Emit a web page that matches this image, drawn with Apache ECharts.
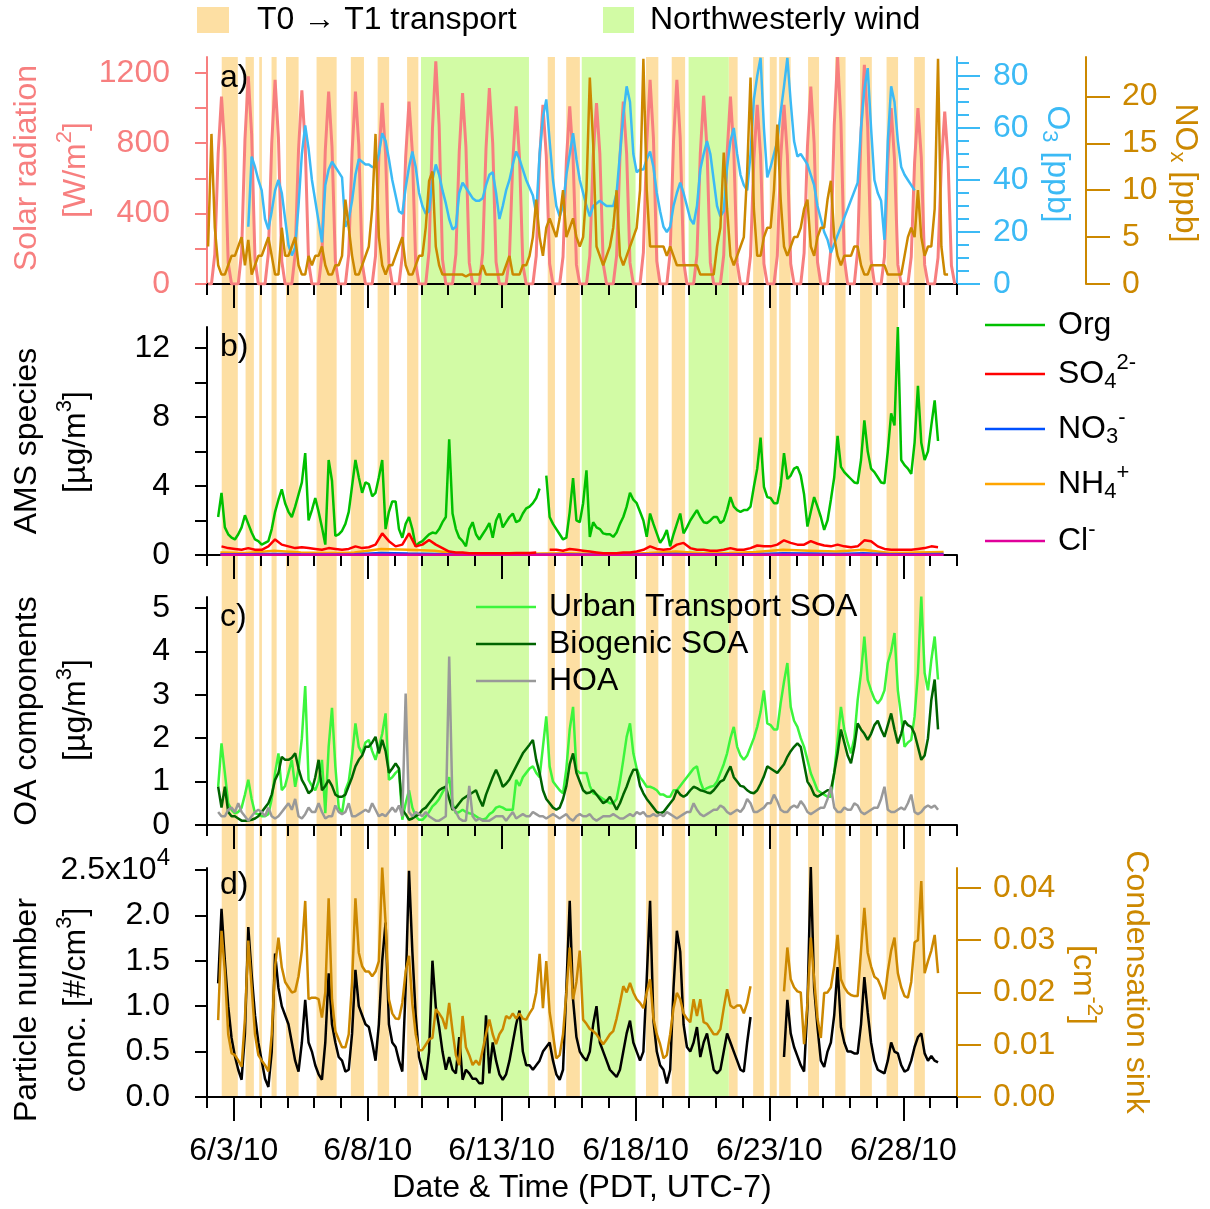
<!DOCTYPE html>
<html>
<head>
<meta charset="utf-8">
<script src="https://cdn.jsdelivr.net/npm/echarts@6/dist/echarts.min.js"></script>
<style>
html, body { margin: 0; padding: 0; background: #fff; }
#main { width: 1210px; height: 1209px; }
</style>
</head>
<body>
<div id="main"></div>
<script>
// x axis is in days since 6/2/10 00:00 PDT
var dateLabels = ['6/3/10', '6/8/10', '6/13/10', '6/18/10', '6/23/10', '6/28/10'];
var labelDays = [1, 6, 11, 16, 21, 26];
var dayTicks = [];
for (var d = 0; d <= 28; d++) dayTicks.push(d);

// shaded periods [start day, end day]
var transportBands = [[0.55, 1.15], [1.44, 1.75], [1.95, 2.05], [2.41, 2.60], [2.95, 3.42], [4.09, 4.84],
  [5.37, 5.86], [6.37, 6.80], [7.47, 7.89], [12.72, 12.99], [13.41, 13.92], [16.39, 16.85], [17.35, 17.85],
  [19.48, 19.81], [20.39, 20.79], [21.01, 21.27], [21.36, 21.79], [22.44, 22.85], [23.45, 23.84],
  [24.38, 24.82], [25.37, 25.80], [26.40, 26.80]];
var nwBands = [[7.99, 12.02], [13.99, 16.00], [17.98, 19.48]];

// 3-hourly values, hours 1,4,7,10,13,16,19,22 of each day (one row per day from 6/2)
var solar = [
  0,0,170,740,1065,770,120,0,
  0,0,180,820,1180,850,140,0,
  0,0,175,800,1160,830,130,0,
  0,0,170,760,1100,790,125,0,
  0,0,165,760,1094,780,130,0,
  0,0,170,750,1094,790,120,0,
  0,0,160,720,1030,740,120,0,
  0,0,160,720,1037,750,115,0,
  0,0,190,880,1265,900,140,0,
  0,0,170,750,1085,780,120,0,
  0,0,175,770,1113,800,125,0,
  0,0,155,700,1009,720,110,0,
  0,0,160,710,1018,730,115,0,
  0,0,155,700,1009,720,110,0,
  0,0,160,720,1028,740,115,0,
  0,0,160,720,1037,740,120,0,
  0,0,180,800,1160,830,130,0,
  0,0,180,810,1160,830,130,0,
  0,0,165,740,1070,770,120,0,
  0,0,165,740,1065,760,120,0,
  0,0,160,710,1018,730,115,0,
  0,0,160,710,1018,730,115,0,
  0,0,175,780,1122,800,125,0,
  0,0,200,900,1290,920,145,0,
  0,0,190,860,1245,890,140,0,
  0,0,155,700,1000,710,110,0,
  0,0,155,690,1000,720,110,0,
  0,0,150,680,980,700,105,0
];
var o3 = [
  null,null,null,null,null,null,null,null,
  null,null,null,null,22,49,45,40,
  36,25,21,28,36,40,35,25,
  15,11,14,30,50,61,52,40,
  32,24,16,38,44,47,45,43,
  41,22,25,32,42,48,47,46,
  46,45,45,50,58,55,48,40,
  34,28,27,37,45,51,45,35,
  30,27,28,40,46,42,36,31,
  25,21,22,35,39,37,35,33,
  32,32,33,38,42,43,35,25,
  30,36,40,46,51,48,44,40,
  37,34,27,50,64,71,55,40,
  30,26,30,42,50,58,48,40,
  35,30,26,30,31,32,31,30,
  30,30,35,50,65,76,70,50,
  43,44,44,48,51,45,35,28,
  22,20,22,30,35,39,35,30,
  25,23,30,44,50,55,50,40,
  30,26,28,45,55,60,50,42,
  38,36,50,71,80,87,60,41,
  45,50,55,66,76,87,70,55,
  49,50,48,46,42,38,30,25,
  20,17,12,null,null,null,null,null,
  null,null,39,60,75,83,60,40,
  35,32,17,55,76,70,55,45,
  42,40,38,36,null,null,null,null,
  null,null,null,null,null,null,null,null
];
var nox = [
  4,16,6,2,1,1,2,3,
  3,4,5,2,4.7,1,2,3,
  3,4,5,3,1,1,6,3,
  3,4,5,2,1,1,3,2,
  3,3,4,2,1,1,2,2,
  3,9,6,3,1,1,2,3,
  4,8,16,5,2,1,2,2,
  3,4,5,2,1,1,2,3,
  3,6,11,12,4,2,1,1,
  1,1,1,1,1,0.8,1,1,
  1,1,2,1,1,1,1,1,
  1,2,3,1,1,1,2,2,
  3,5,9,5,3,6,7,6,
  5,7,10,5,6,7,5,4,
  5,10,22,15,4,3,2,3,
  4,6,10,3,2,3,4,5,
  6,10,24,10,4,4,4,4,
  4,3,4,3,2,2,2,2,
  2,2,2,1,1,1,1,1,
  4,6,14,8,3,2,3,4,
  5,12,22,8,3,3,5,6,
  6,10,17,9,4,3,4,5,
  5,6,8,9,4,3,5,6,
  6,9,11,5,3,2,3,3,
  3,4,4,2,1,1,2,2,
  2,2,2,1,1,1,1,1,
  3,5,6,5,10,5,3,4,
  4,8,24,4,1,1,null,null
];
var org = [
  null,null,null,2.2,3.6,1.6,1.2,1.0,
  0.9,1.2,1.6,2.3,1.8,1.3,0.9,0.8,
  0.6,0.7,0.8,1.5,2.5,3.2,3.8,3.0,
  2.5,2.2,2.8,3.5,4.2,5.9,2.0,2.6,
  3.3,2.5,1.6,0.6,5.5,4.3,1.1,1.2,
  1.4,1.8,2.5,4.0,5.5,4.5,3.6,4.2,
  4.1,3.4,3.6,4.5,5.5,1.5,2.5,3.1,
  3.1,1.5,1.0,1.8,2.2,1.5,0.5,0.7,
  0.8,1.0,1.2,1.3,1.25,1.5,1.9,2.2,
  6.7,2.4,1.5,1.0,0.8,0.5,1.5,1.9,
  1.2,0.9,1.2,1.5,1.85,1.0,2.0,2.4,
  1.6,1.9,2.2,2.4,1.9,2.0,2.4,2.7,
  2.8,3.0,3.3,3.85,null,4.6,2.2,1.8,
  1.5,1.2,0.9,1.0,2.5,4.45,2.0,1.9,
  3.0,4.9,1.05,1.9,1.6,1.5,1.25,1.2,
  1.2,1.05,1.3,1.8,2.2,2.8,3.6,3.2,
  3.0,2.5,2.0,1.05,2.4,1.8,1.25,0.7,
  1.0,1.45,0.5,1.2,1.8,2.4,1.25,1.6,
  2.0,2.3,2.6,2.2,1.9,1.85,2.0,2.2,
  2.2,1.85,2.0,2.6,3.35,2.8,2.6,2.5,
  2.6,2.6,2.8,3.95,5.0,6.8,3.95,3.35,
  3.3,3.0,3.0,4.0,5.9,4.4,4.6,5.0,
  5.1,4.6,3.5,1.65,2.5,3.35,2.8,2.2,
  1.45,2.0,3.2,4.5,6.9,5.1,4.8,4.6,
  4.4,4.2,4.15,5.5,7.8,6.0,5.0,4.8,
  4.5,4.2,4.15,6.0,8.2,7.5,13.2,5.5,
  5.2,5.0,4.7,6.5,9.8,6.5,5.5,6.0,
  7.5,8.95,6.6,null,null,null,null,null
];
// 6-hourly, hours 1,7,13,19
var so4 = [
  null,null,0.5,0.4,  0.35,0.3,0.4,0.3,  0.3,0.5,0.9,0.6,  0.5,0.4,0.45,0.4,
  0.35,0.3,0.4,0.35,  0.3,0.35,0.5,0.4,  0.45,0.6,1.25,0.8,  0.5,0.6,1.25,0.5,
  0.6,0.87,0.6,0.4,  0.2,0.15,0.15,0.1,  0.1,0.1,0.1,0.1,  0.1,0.1,0.12,0.12,
  0.12,0.15,null,0.3,  0.3,0.25,0.35,0.3,  0.25,0.2,0.15,0.1,  0.1,0.1,0.15,0.15,
  0.2,0.3,0.5,0.35,  0.3,0.35,0.6,0.7,  0.4,0.3,0.3,0.25,  0.25,0.3,0.4,0.3,
  0.3,0.4,0.55,0.5,  0.5,0.6,0.85,0.7,  0.6,0.6,0.8,0.65,  0.55,0.5,0.6,0.5,
  0.45,0.5,0.85,0.8,  0.5,0.35,0.3,0.3,  0.3,0.3,0.35,0.4,  0.5,0.45,null,null
];
// daily values at noon
var nh4 = [0.15,0.12,0.25,0.15,0.12,0.15,0.35,0.3,0.25,0.05,0.04,0.04,0.08,0.1,
  0.06,0.05,0.12,0.2,0.1,0.12,0.18,0.3,0.25,0.2,0.3,0.12,0.15,0.18];
var no3 = [0.05,0.04,0.06,0.04,0.03,0.05,0.12,0.08,0.06,0.02,0.02,0.02,0.02,0.03,
  0.02,0.02,0.05,0.06,0.03,0.04,0.05,0.1,0.08,0.06,0.1,0.04,0.05,0.06];
var chl = [0.02,0.01,0.02,0.01,0.01,0.01,0.02,0.02,0.01,0.01,0.01,0.01,0.01,0.01,
  0.01,0.01,0.01,0.02,0.01,0.01,0.01,0.02,0.02,0.01,0.02,0.01,0.01,0.01];
var urbanSoa = [
  null,null,null,0.88,1.88,1.2,0.5,0.35,
  0.27,0.3,0.4,0.7,1.04,0.6,0.27,0.25,
  0.2,0.2,0.25,0.6,1.2,1.65,0.8,0.9,
  1.2,1.5,0.88,1.3,2.0,3.2,1.04,0.9,
  0.8,1.0,1.5,0.27,1.8,2.7,1.35,0.4,
  0.27,0.8,1.0,1.6,2.34,1.8,1.65,1.9,
  1.96,1.7,1.5,1.8,2.1,2.57,1.04,1.1,
  1.2,1.27,0.12,0.5,0.8,0.4,0.2,0.12,
  0.12,0.2,0.3,0.43,0.5,0.6,0.75,0.88,
  1.1,0.5,0.27,0.3,0.35,0.3,0.27,0.25,
  0.2,0.15,0.12,0.15,0.25,0.3,0.4,0.43,
  0.4,0.35,0.35,0.35,1.04,0.9,1.1,1.2,
  1.3,1.35,1.2,1.1,1.8,2.5,1.35,1.0,
  0.9,0.8,0.73,1.3,2.2,2.72,1.27,1.2,
  1.2,1.2,0.9,0.73,0.7,0.65,0.6,0.55,
  0.5,0.5,0.6,1.0,1.5,2.03,2.34,1.65,
  1.3,1.1,1.0,0.88,0.88,0.85,0.8,0.7,
  0.7,0.65,0.65,0.8,0.8,0.9,1.0,1.1,
  1.2,1.3,1.35,1.0,0.8,0.85,0.88,0.9,
  1.0,1.2,1.4,1.65,2.0,2.26,1.8,1.6,
  1.5,1.6,1.8,2.0,2.26,2.6,3.1,2.34,
  2.3,2.2,2.2,2.8,3.3,3.73,2.72,2.4,
  2.26,2.0,1.8,1.5,1.19,1.0,0.8,0.75,
  0.7,0.65,0.65,1.2,1.96,2.72,2.2,1.9,
  1.65,2.0,2.88,3.5,4.34,3.34,3.1,2.9,
  2.8,2.9,3.1,3.73,4.0,4.42,3.1,2.5,
  1.8,1.9,1.96,2.5,3.5,5.26,3.5,3.1,
  3.8,4.34,3.35,null,null,null,null,null
];
var bioSoa = [
  null,null,null,0.88,0.4,0.88,0.3,0.2,
  0.2,0.15,0.1,0.1,0.1,0.12,0.15,0.2,
  0.3,0.4,0.5,0.7,1.04,1.2,1.57,1.5,
  1.5,1.55,1.65,1.3,1.04,0.9,0.73,0.8,
  1.1,1.5,0.8,0.9,1.04,0.9,0.7,0.65,
  0.65,0.7,0.9,1.1,1.35,1.5,1.6,1.8,
  1.8,1.9,2.03,1.65,1.96,1.7,1.2,1.3,
  1.42,1.3,0.35,0.25,0.12,0.15,0.2,0.25,
  0.35,0.4,0.5,0.6,0.7,0.8,0.85,0.88,
  0.6,0.35,0.4,0.5,0.6,0.65,0.7,0.75,
  0.8,0.6,0.43,0.7,0.9,1.1,1.27,1.1,
  0.88,0.95,1.05,1.2,1.35,1.5,1.65,1.75,
  1.85,1.96,1.5,1.2,0.8,0.6,0.5,0.4,
  0.35,0.4,0.6,0.9,1.4,1.65,1.2,1.0,
  0.8,0.73,0.75,0.8,0.7,0.6,0.5,0.55,
  0.65,0.5,0.35,0.5,0.7,0.88,1.1,1.27,
  1.27,0.9,0.73,0.6,0.5,0.4,0.3,0.27,
  0.3,0.4,0.5,0.6,0.8,0.7,0.65,0.7,
  0.8,0.88,0.85,0.8,0.78,0.75,0.73,0.8,
  0.9,1.0,1.04,1.2,1.35,1.1,1.0,0.9,
  0.88,0.8,0.75,0.73,0.8,0.95,1.12,1.35,
  1.3,1.25,1.2,1.3,1.4,1.57,1.7,1.8,
  1.88,1.8,1.4,1.0,0.88,0.7,0.65,0.7,
  0.75,0.8,0.8,1.2,1.65,2.2,1.9,1.6,
  1.42,1.8,2.34,2.2,2.1,1.96,2.1,2.3,
  2.4,2.2,2.03,2.3,2.57,2.2,1.88,2.1,
  2.4,2.3,2.26,2.1,1.8,1.5,1.6,2.0,
  2.88,3.35,2.2,null,null,null,null,null
];
var hoa = [
  null,null,null,0.3,0.2,0.2,0.35,0.4,
  0.3,0.5,0.3,0.2,0.1,0.2,0.3,0.35,
  0.3,0.2,0.4,0.2,0.15,0.2,0.3,0.4,
  0.5,0.35,0.6,0.2,0.15,0.25,0.4,0.3,
  0.3,0.5,0.3,0.15,0.2,0.2,0.45,0.3,
  0.25,0.3,0.5,0.2,0.2,0.25,0.3,0.35,
  0.3,0.5,0.35,0.2,0.25,0.2,0.3,0.4,
  0.3,0.45,0.2,3.03,0.3,0.2,0.3,0.25,
  0.2,0.3,0.2,0.15,0.1,0.1,0.15,0.2,
  3.88,0.4,0.3,0.15,0.1,0.1,0.9,0.2,
  0.1,0.15,0.1,0.1,0.1,0.15,0.2,0.2,
  0.2,0.1,0.2,0.3,0.15,0.2,0.25,0.2,
  0.2,0.3,0.25,0.2,0.2,0.15,0.2,0.25,
  0.2,0.15,0.2,0.25,0.15,0.1,0.2,0.25,
  0.2,0.2,0.25,0.15,0.1,0.15,0.2,0.2,
  0.2,0.25,0.2,0.15,0.15,0.2,0.25,0.2,
  0.3,0.25,0.3,0.2,0.2,0.25,0.2,0.25,
  0.2,0.3,0.25,0.2,0.15,0.2,0.25,0.3,
  0.3,0.5,0.35,0.25,0.2,0.25,0.3,0.35,
  0.35,0.45,0.4,0.3,0.25,0.3,0.35,0.3,
  0.4,0.6,0.5,0.3,0.3,0.35,0.4,0.5,
  0.5,0.7,0.55,0.35,0.3,0.3,0.4,0.45,
  0.4,0.55,0.45,0.3,0.25,0.3,0.35,0.4,
  0.4,0.6,0.88,0.4,0.3,0.3,0.4,0.35,
  0.35,0.5,0.45,0.3,0.25,0.3,0.35,0.4,
  0.4,0.6,0.88,0.35,0.3,0.3,0.35,0.4,
  0.35,0.5,0.7,0.3,0.25,0.3,0.4,0.45,
  0.4,0.45,0.35,null,null,null,null,null
];
// particle number, units of 1e4 #/cm3
var pnum = [
  null,null,null,1.25,2.07,1.5,1.0,0.65,
  0.45,0.3,0.19,0.7,1.87,1.35,0.9,0.6,
  0.4,0.2,0.11,0.5,1.58,1.2,1.0,0.9,
  0.8,0.6,0.4,0.28,0.6,1.07,0.6,0.5,
  0.35,0.25,0.19,0.6,1.36,0.8,0.6,0.44,
  0.4,0.28,0.3,0.7,1.4,1.0,0.9,0.8,
  0.77,0.6,0.4,0.8,1.5,1.92,0.8,0.6,
  0.55,0.4,0.28,1.2,2.49,1.6,0.9,0.44,
  0.3,0.19,0.5,1.5,0.99,0.77,0.5,0.3,
  0.44,0.3,0.26,0.66,0.19,0.3,0.26,0.2,
  0.2,0.15,0.15,0.9,0.26,0.6,0.4,0.25,
  0.19,0.25,0.4,0.6,0.8,0.95,0.5,0.35,
  0.35,0.3,0.35,0.4,0.5,0.55,0.6,0.4,
  0.25,0.19,0.3,1.2,2.16,1.07,0.66,0.5,
  0.44,0.4,0.5,0.8,1.0,0.6,0.5,0.4,
  0.3,0.26,0.22,0.3,0.5,0.7,0.84,0.6,
  0.5,0.4,0.5,1.3,2.16,0.84,0.5,0.35,
  0.3,0.15,0.3,1.2,1.83,1.6,0.8,0.55,
  0.5,0.6,0.77,0.44,0.6,0.7,0.5,0.3,
  0.26,0.3,0.5,0.7,0.6,0.5,0.4,0.3,
  0.28,0.6,0.88,null,null,null,null,null,
  null,null,null,null,0.44,1.07,0.7,0.55,
  0.45,0.35,0.28,1.0,2.53,1.2,0.77,0.4,
  0.33,0.5,0.6,0.9,1.43,0.77,0.6,0.5,
  0.5,0.48,0.48,0.8,1.32,0.93,0.6,0.4,
  0.3,0.28,0.26,0.4,0.6,0.5,0.48,0.35,
  0.28,0.3,0.4,0.55,0.66,0.7,0.48,0.4,
  0.45,0.4,0.38,null,null,null,null,null
];
// condensation sink, cm-2
var csink = [
  null,null,null,0.0147,0.0318,0.024,0.012,0.0084,
  0.008,0.007,0.0058,0.015,0.0299,0.021,0.012,0.008,
  0.007,0.0061,0.0049,0.012,0.025,0.0305,0.0248,0.022,
  0.021,0.02,0.0202,0.0231,0.028,0.0375,0.0187,0.019,
  0.019,0.0187,0.0152,0.02,0.038,0.0187,0.0126,0.011,
  0.0095,0.0095,0.012,0.022,0.038,0.0276,0.025,0.024,
  0.024,0.0231,0.024,0.026,0.0439,0.0334,0.0187,0.016,
  0.015,0.0149,0.018,0.024,0.027,0.0178,0.012,0.0089,
  0.009,0.01,0.011,0.0113,0.0168,0.016,0.015,0.013,
  0.018,0.0126,0.008,0.0061,0.0155,0.0095,0.008,0.0061,
  0.007,0.0061,0.009,0.012,0.0148,0.012,0.0101,0.012,
  0.013,0.0155,0.015,0.016,0.015,0.016,0.015,0.0148,
  0.016,0.017,0.02,0.0274,0.017,0.026,0.0162,0.012,
  0.0074,0.008,0.012,0.02,0.0286,0.0187,0.022,0.028,
  0.0148,0.014,0.013,0.0126,0.012,0.011,0.0101,0.011,
  0.012,0.0126,0.015,0.018,0.0212,0.02,0.0218,0.02,
  0.0187,0.018,0.017,0.02,0.0225,0.015,0.012,0.0101,
  0.0074,0.008,0.012,0.017,0.0199,0.0187,0.016,0.015,
  0.0143,0.0187,0.0155,0.0187,0.0143,0.014,0.013,0.012,
  0.012,0.013,0.017,0.0206,0.0175,0.017,0.0175,0.0175,
  0.016,0.018,0.0212,null,null,null,null,null,
  null,null,null,null,0.0202,0.0286,0.0225,0.021,
  0.0202,0.02,0.0101,0.018,0.0305,0.0225,0.015,0.0113,
  0.0199,0.02,0.021,0.025,0.031,0.0225,0.021,0.02,
  0.0195,0.0193,0.0193,0.028,0.0362,0.0276,0.025,0.023,
  0.0225,0.021,0.0187,0.024,0.028,0.0305,0.0237,0.021,
  0.0193,0.019,0.022,0.0296,0.03,0.0413,0.0237,0.026,
  0.028,0.031,0.0237,null,null,null,null,null
];

// axis tick / label values
var solarTicks = [0, 200, 400, 600, 800, 1000, 1200];
var solarLabels = [0, 400, 800, 1200];
var o3MinorTicks = [0,5,10,15,20,25,30,35,40,45,50,55,60,65,70,75,80,85];
var o3Labels = [0, 20, 40, 60, 80];
var noxLabels = [0, 5, 10, 15, 20];
var amsTicks = [0, 2, 4, 6, 8, 10, 12];
var amsLabels = [0, 4, 8, 12];
var oaLabels = [0, 1, 2, 3, 4, 5];
var pnLabels = [0, 0.5, 1, 1.5, 2, 2.5];
var csLabels = [0, 0.01, 0.02, 0.03, 0.04];

var FONT = '"Liberation Sans", Arial, sans-serif';
var FS = 32;
var C_SOLAR = '#f77f7f', C_O3 = '#3cbaf5', C_NOX = '#cc8800';
var C_TRANS = '#fddfa3', C_NW = '#d2fba5';
var LW = 2.5;

function toXY(values, start, step) {
  return values.map(function (v, i) { return [start + i * step, v]; });
}
var T0 = 1 / 24, DT3 = 3 / 24, DT6 = 6 / 24;

var myChart = echarts.init(document.getElementById('main'));

var grids = [
  { left: 207, right: 253, top: 57, height: 1040 },
  { left: 207, right: 253, top: 57, height: 227 },
  { left: 207, right: 253, top: 327, height: 228 },
  { left: 207, right: 253, top: 597, height: 228 },
  { left: 207, right: 253, top: 868, height: 229 }
];

var xAxes = [{ gridIndex: 0, type: 'value', min: 0, max: 28, show: false }];
for (var p = 1; p <= 4; p++) {
  xAxes.push({
    gridIndex: p, type: 'value', position: 'bottom', min: 0, max: 28,
    axisLine: { show: true, onZero: false, lineStyle: { color: '#000', width: 2 } },
    axisTick: { show: true, customValues: dayTicks, length: 11, lineStyle: { color: '#000', width: 2 } },
    axisLabel: { show: false }, splitLine: { show: false }
  });
  xAxes.push({
    gridIndex: p, type: 'value', position: 'bottom', min: 0, max: 28,
    axisLine: { show: false, onZero: false },
    axisTick: { show: true, customValues: labelDays, length: 24, lineStyle: { color: '#000', width: 2 } },
    axisLabel: {
      show: p === 4, customValues: labelDays, margin: 38, color: '#000', fontSize: FS, fontFamily: FONT,
      formatter: function (v) { return dateLabels[labelDays.indexOf(v)]; }
    },
    splitLine: { show: false }
  });
}

function yAxis(grid, pos, min, max, ticks, labels, color, tickLen, extra) {
  var a = {
    gridIndex: grid, type: 'value', position: pos, min: min, max: max,
    axisLine: { show: true, onZero: false, lineStyle: { color: color, width: 2 } },
    axisTick: { show: true, customValues: ticks, length: tickLen, lineStyle: { color: color, width: 2 } },
    axisLabel: {
      customValues: labels, color: color, fontSize: FS, fontFamily: FONT, margin: 37,
      formatter: function (v) { return String(v); }
    },
    splitLine: { show: false }
  };
  for (var k in extra) a[k] = extra[k];
  return a;
}

var yAxes = [
  { gridIndex: 0, type: 'value', min: 0, max: 1, show: false },
  yAxis(1, 'left', 0, 1290, solarTicks, solarLabels, C_SOLAR, 12),
  yAxis(1, 'right', 0, 87.3, o3Labels, o3Labels, C_O3, 23),
  yAxis(1, 'right', 0, 87.3, o3MinorTicks, [], C_O3, 12),
  yAxis(1, 'right', 0, 24.2, noxLabels, noxLabels, C_NOX, 24, { offset: 129 }),
  yAxis(2, 'left', 0, 13.2, amsTicks, amsLabels, '#000', 12),
  yAxis(3, 'left', 0, 5.25, oaLabels, oaLabels, '#000', 12),
  yAxis(4, 'left', 0, 2.52, pnLabels, pnLabels, '#000', 12),
  yAxis(4, 'right', 0, 0.0438, csLabels, csLabels, C_NOX, 24)
];
yAxes[2].axisLabel.margin = 36;
yAxes[3].axisLine.show = false;
yAxes[3].axisLabel.show = false;
yAxes[4].axisLabel.margin = 36;
yAxes[7].axisLabel.formatter = function (v) {
  return v === 2.5 ? '2.5x10{sup|4}' : v.toFixed(1);
};
yAxes[7].axisLabel.rich = { sup: { fontSize: 24, fontFamily: FONT, color: '#000', padding: [0, 0, 22, 0] } };
yAxes[8].axisLabel.margin = 36;
yAxes[8].axisLabel.formatter = function (v) { return v.toFixed(2); };

function bandSeries(bands, color) {
  return {
    type: 'custom', xAxisIndex: 0, yAxisIndex: 0, z: -1, silent: true,
    data: bands, encode: { x: [0, 1] },
    renderItem: function (params, api) {
      var a = api.coord([api.value(0), 1]);
      var b = api.coord([api.value(1), 0]);
      return { type: 'rect', shape: { x: a[0], y: a[1], width: b[0] - a[0], height: b[1] - a[1] }, style: { fill: color } };
    }
  };
}

function lineSeries(name, data, xi, yi, color, width, connect) {
  return {
    name: name, type: 'line', xAxisIndex: xi, yAxisIndex: yi, data: data,
    showSymbol: false, symbol: 'none', connectNulls: !!connect,
    lineStyle: { color: color, width: width || LW }, itemStyle: { color: color }
  };
}

var series = [
  bandSeries(transportBands, C_TRANS),
  bandSeries(nwBands, C_NW),
  lineSeries('Solar', toXY(solar, T0, DT3), 1, 1, C_SOLAR, 3),
  lineSeries('O3', toXY(o3, T0, DT3), 1, 2, C_O3, LW, true),
  lineSeries('NOx', toXY(nox, T0, DT3), 1, 4, C_NOX),
  lineSeries('Org', toXY(org, T0, DT3), 3, 5, '#00c000'),
  lineSeries('NH4', toXY(nh4, 0.5, 1), 3, 5, '#ffa500'),
  lineSeries('NO3', toXY(no3, 0.5, 1), 3, 5, '#0050ff'),
  lineSeries('Cl', toXY(chl, 0.5, 1), 3, 5, '#e0009a'),
  lineSeries('SO4', toXY(so4, T0, DT6), 3, 5, '#ff0000'),
  lineSeries('Urban Transport SOA', toXY(urbanSoa, T0, DT3), 5, 6, '#3cf53c'),
  lineSeries('Biogenic SOA', toXY(bioSoa, T0, DT3), 5, 6, '#006400'),
  lineSeries('HOA', toXY(hoa, T0, DT3), 5, 6, '#999999'),
  lineSeries('Particle number', toXY(pnum, T0, DT3), 7, 7, '#000000'),
  lineSeries('Condensation sink', toXY(csink, T0, DT3), 7, 8, C_NOX)
];

function txt(x, y, text, color, rot, align, rich) {
  return {
    type: 'text', x: x, y: y, rotation: rot || 0, silent: true,
    style: {
      text: text, fill: color || '#000', fontSize: FS, fontFamily: FONT,
      align: align || 'center', verticalAlign: 'middle',
      rich: rich || {}
    }
  };
}
function supRich(color) {
  return {
    sup: { fontSize: 22, fontFamily: FONT, fill: color, padding: [0, 0, 22, 0] },
    sub: { fontSize: 22, fontFamily: FONT, fill: color, padding: [16, 0, 0, 0] }
  };
}
function legLine(x1, x2, y, color) {
  return { type: 'line', silent: true, shape: { x1: x1, y1: y, x2: x2, y2: y }, style: { stroke: color, lineWidth: LW } };
}

var R = Math.PI / 2;
var graphics = [
  // top legend
  { type: 'rect', shape: { x: 197, y: 7, width: 32, height: 26 }, style: { fill: C_TRANS } },
  txt(257, 20, 'T0 \u2192 T1 transport', '#000', 0, 'left'),
  { type: 'rect', shape: { x: 603, y: 7, width: 31, height: 26 }, style: { fill: C_NW } },
  txt(650, 20, 'Northwesterly wind', '#000', 0, 'left'),
  // panel letters
  txt(220, 78, 'a)', '#000', 0, 'left'),
  txt(220, 347, 'b)', '#000', 0, 'left'),
  txt(220, 617, 'c)', '#000', 0, 'left'),
  txt(220, 885, 'd)', '#000', 0, 'left'),
  // axis titles
  txt(27, 168, 'Solar radiation', C_SOLAR, R),
  txt(76, 170, '[W/m{sup|2}]', C_SOLAR, R, 'center', supRich(C_SOLAR)),
  txt(1057, 164, 'O{sub|3} [ppb]', C_O3, -R, 'center', supRich(C_O3)),
  txt(1185, 173, 'NO{sub|x} [ppb]', C_NOX, -R, 'center', supRich(C_NOX)),
  txt(27, 441, 'AMS species', '#000', R),
  txt(76, 442, '[\u00b5g/m{sup|3}]', '#000', R, 'center', supRich('#000')),
  txt(27, 711, 'OA components', '#000', R),
  txt(76, 710, '[\u00b5g/m{sup|3}]', '#000', R, 'center', supRich('#000')),
  txt(27, 1010, 'Particle number', '#000', R),
  txt(76, 1000, 'conc. [#/cm{sup|3}]', '#000', R, 'center', supRich('#000')),
  txt(1136, 982, 'Condensation sink', C_NOX, -R),
  txt(1083, 985, '[cm{sup|-2}]', C_NOX, -R, 'center', supRich(C_NOX)),
  txt(582, 1188, 'Date & Time (PDT, UTC-7)', '#000', 0),
  // panel b legend
  legLine(985, 1045, 325, '#00c000'), txt(1058, 325, 'Org', '#000', 0, 'left'),
  legLine(985, 1045, 374, '#ff0000'), txt(1058, 374, 'SO{sub|4}{sup|2-}', '#000', 0, 'left', supRich('#000')),
  legLine(985, 1045, 429, '#0050ff'), txt(1058, 429, 'NO{sub|3}{sup|-}', '#000', 0, 'left', supRich('#000')),
  legLine(985, 1045, 484, '#ffa500'), txt(1058, 484, 'NH{sub|4}{sup|+}', '#000', 0, 'left', supRich('#000')),
  legLine(985, 1045, 541, '#e0009a'), txt(1058, 541, 'Cl{sup|-}', '#000', 0, 'left', supRich('#000')),
  // panel c legend
  legLine(476, 536, 607, '#3cf53c'), txt(549, 607, 'Urban Transport SOA', '#000', 0, 'left'),
  legLine(476, 536, 644, '#006400'), txt(549, 644, 'Biogenic SOA', '#000', 0, 'left'),
  legLine(476, 536, 681, '#999999'), txt(549, 681, 'HOA', '#000', 0, 'left')
];

var option = {
  animation: false,
  backgroundColor: '#fff',
  grid: grids,
  xAxis: xAxes,
  yAxis: yAxes,
  series: series,
  graphic: graphics
};
myChart.setOption(option);

window.addEventListener('resize', function () {
  myChart.resize();
});
</script>
</body>
</html>
